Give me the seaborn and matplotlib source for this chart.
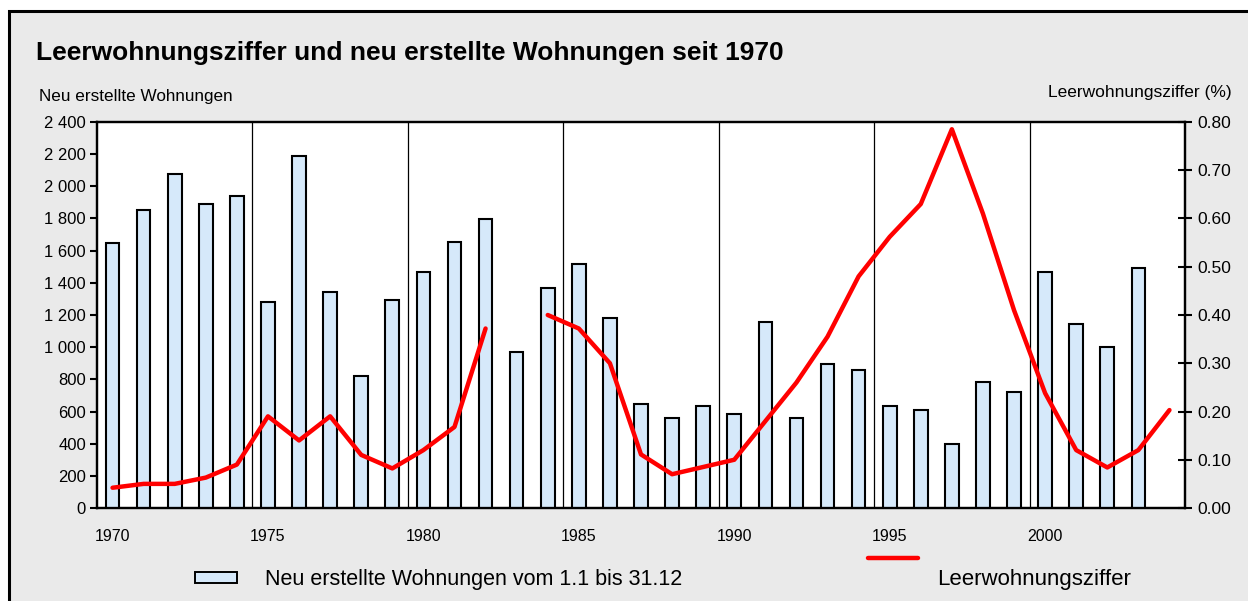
import matplotlib
matplotlib.use("Agg")
import matplotlib.pyplot as plt
from matplotlib.patches import Rectangle
from matplotlib.lines import Line2D
from matplotlib.ticker import FuncFormatter
import seaborn as sns
import pandas as pd
import numpy as np

# Data
years = list(range(1970, 2005))
new_flats = [1650, 1850, 2075, 1890, 1940, 1283, 2190, 1345, 823, 1295,
             1470, 1655, 1795, 972, 1370, 1519, 1183, 649, 562, 636,
             587, 1159, 562, 897, 860, 636, 611, 400, 785, 723,
             1470, 1146, 999, 1494, np.nan]
vacancy = [0.042, 0.05, 0.05, 0.063, 0.09, 0.19, 0.14, 0.19, 0.11, 0.082,
           0.12, 0.168, 0.372, np.nan, 0.40, 0.372, 0.30, 0.111, 0.07, 0.085,
           0.10, 0.18, 0.26, 0.355, 0.48, 0.562, 0.63, 0.785, 0.61, 0.41,
           0.238, 0.12, 0.084, 0.12, 0.203]
year_labels = ["1970", "1975", "1980", "1985", "1990", "1995", "2000"]

df = pd.DataFrame({"year": years, "flats": new_flats, "rate": vacancy})
df["pos"] = df["year"] + 0.5
# split the line where a value is missing
df["seg"] = df["rate"].isna().cumsum()
line_df = df.dropna(subset=["rate"])
bar_df = df.dropna(subset=["flats"])

sns.set_style("white")
plt.rcParams["font.family"] = ["Liberation Sans", "DejaVu Sans"]
plt.rcParams["text.color"] = "black"
plt.rcParams["xtick.color"] = "black"
plt.rcParams["ytick.color"] = "black"
plt.rcParams["axes.labelcolor"] = "black"

W, H = 1248, 601
fig = plt.figure(figsize=(W / 100, H / 100), dpi=100, facecolor="white")

# gray frame of the chart (behind everything)
fig.patches.append(Rectangle((9 / W, -0.1), 1.2, (H - 11) / H + 0.1,
                             transform=fig.transFigure, facecolor="#EAEAEA",
                             edgecolor="black", linewidth=2.2, zorder=-5))

ax = fig.add_axes([97 / W, (H - 508) / H, (1185 - 97) / W, (508 - 122) / H])
ax.set_facecolor("white")

sns.barplot(data=bar_df, x="pos", y="flats", native_scale=True, width=0.44,
            color="#D6E9FA", edgecolor="black", linewidth=1.5, saturation=1,
            ax=ax, zorder=3)
for p in ax.patches:
    p.set_facecolor("#D6E9FA")

ax.set_xlim(1970, 2005)
ax.set_ylim(0, 2400)
ax.set_yticks(range(0, 2401, 200))
ax.yaxis.set_major_formatter(FuncFormatter(lambda v, _: f"{int(v):,}".replace(",", " ")))
# tick marks at the 5-year boundaries, labels centred on the year's bar
ax.set_xticks(range(1970, 2006, 5))
ax.set_xticklabels([""] * 8)
ax.set_xticks([int(y) + 0.5 for y in year_labels], minor=True)
ax.set_xticklabels(year_labels, minor=True)
for x in range(1975, 2005, 5):
    ax.axvline(x, color="black", linewidth=0.9, zorder=1)
ax.set_xlabel("")
ax.set_ylabel("")
ax.tick_params(axis="y", direction="out", length=5, width=1.5, labelsize=12, pad=3)
ax.tick_params(axis="x", which="major", direction="inout", length=8, width=1.5)
ax.tick_params(axis="x", which="minor", length=0, labelsize=11.5, pad=15)
for s in ax.spines.values():
    s.set_linewidth(1.6)
    s.set_color("black")

ax2 = ax.twinx()
sns.lineplot(data=line_df, x="pos", y="rate", units="seg", estimator=None,
             color="#FF0000", linewidth=3.2, ax=ax2, zorder=5)
ax2.set_ylim(0, 0.8)
ax2.set_yticks(np.arange(0, 0.81, 0.1))
ax2.yaxis.set_major_formatter(FuncFormatter(lambda v, _: f"{v:.2f}"))
ax2.set_ylabel("")
ax2.set_xlabel("")
ax2.tick_params(axis="y", direction="inout", length=10, width=1.5, labelsize=12.5, pad=4)
for s in ax2.spines.values():
    s.set_linewidth(1.6)
    s.set_color("black")
ax2.set_xlim(1970, 2005)

# texts
fig.text(36 / W, 1 - 53 / H, "Leerwohnungsziffer und neu erstellte Wohnungen seit 1970",
         fontsize=19, fontweight="bold", va="center", ha="left")
fig.text(39 / W, 1 - 97 / H, "Neu erstellte Wohnungen", fontsize=12.3, va="center", ha="left")
fig.text(1232 / W, 1 - 92 / H, "Leerwohnungsziffer (%)", fontsize=12.5, va="center", ha="right")

# legend drawn by hand
fig.patches.append(Rectangle((195 / W, 1 - 583 / H), 42 / W, 11 / H,
                             transform=fig.transFigure, facecolor="#D6E9FA",
                             edgecolor="black", linewidth=1.4, zorder=3))
fig.text(265 / W, 1 - 579 / H, "Neu erstellte Wohnungen vom 1.1 bis 31.12",
         fontsize=15.5, va="center", ha="left")
fig.lines.append(Line2D([868 / W, 918 / W], [1 - 558 / H, 1 - 558 / H],
                        transform=fig.transFigure, color="#FF0000", linewidth=3.2))
fig.text(937 / W, 1 - 580 / H, "Leerwohnungsziffer", fontsize=16, va="center", ha="left")

fig.savefig("out.png", dpi=100, facecolor=fig.get_facecolor())
